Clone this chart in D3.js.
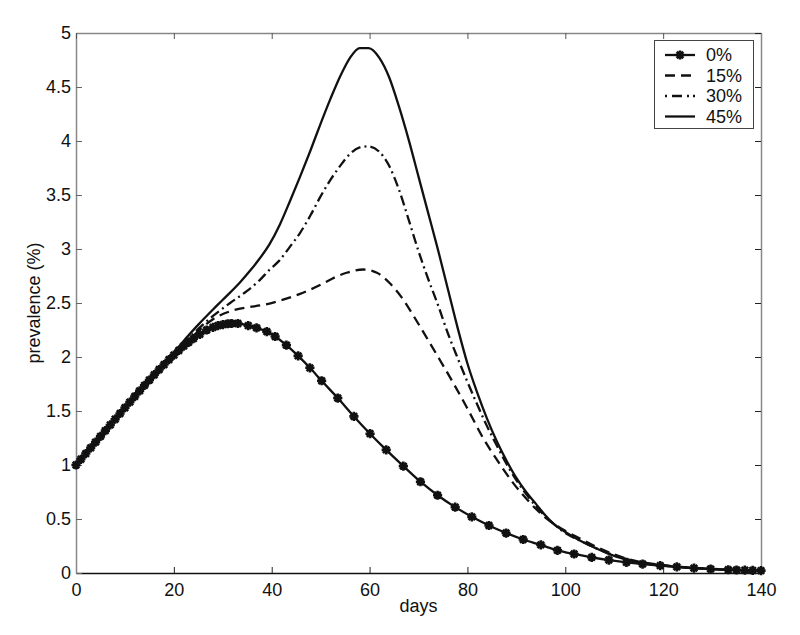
<!DOCTYPE html>
<html><head><meta charset="utf-8">
<script src="https://cdn.jsdelivr.net/npm/d3@7"></script>
<style>
body{margin:0;background:#fff}
text{font-family:"Liberation Sans",Arial,Helvetica,sans-serif;fill:#111}
</style>
</head><body>
<svg id="chart" width="800" height="635"></svg>
<script>
// ---- data ----
const seriesNames = ["0%", "15%", "30%", "45%"];
const xTicks = [0, 20, 40, 60, 80, 100, 120, 140];
const yTicks = [0, 0.5, 1, 1.5, 2, 2.5, 3, 3.5, 4, 4.5, 5];
const yTickLabels = ["0", "0.5", "1", "1.5", "2", "2.5", "3", "3.5", "4", "4.5", "5"];
const xLabel = "days";
const yLabel = "prevalence (%)";

const days0 = [0,1,2,3,4,5,6,7,8,9,10,11,12,13,14,15,16,17,18,19,20,21,22,23,24,25.3,26.7,28,29,30,31,31.8,33.1,35.2,36.9,39,40.7,43,45.4,47.8,50.2,53.5,56.8,60.1,63.4,66.9,70.4,73.9,77.5,80.9,84.4,87.9,91.4,95,98.4,101.8,105.4,108.9,112.5,115.8,119.4,122.8,126.3,129.7,133.3,135,136.7,138.3,140];
const prev0 = [1.00,1.053,1.106,1.159,1.212,1.265,1.318,1.371,1.424,1.477,1.53,1.582,1.634,1.686,1.737,1.787,1.836,1.884,1.93,1.975,2.018,2.06,2.10,2.135,2.17,2.21,2.25,2.275,2.29,2.30,2.308,2.31,2.31,2.29,2.27,2.235,2.19,2.11,2.01,1.90,1.78,1.62,1.45,1.29,1.14,0.99,0.845,0.72,0.61,0.52,0.44,0.37,0.31,0.26,0.21,0.176,0.145,0.12,0.099,0.083,0.068,0.056,0.045,0.037,0.03,0.028,0.026,0.024,0.022];

const days15 = [0,5,10,15,20,22.5,25,28,32,35,38,41.5,45.8,50.5,53,55.3,58.7,61.5,64.2,66.9,69,71,74.4,77.1,79.8,83.2,86,89.4,92.8,96,100,103,106,109,112,115,118,121,125,130,135,140];
const prev15 = [1.0,1.265,1.53,1.787,2.03,2.13,2.24,2.35,2.43,2.46,2.48,2.52,2.585,2.68,2.74,2.78,2.81,2.78,2.68,2.53,2.38,2.23,1.97,1.76,1.54,1.25,1.05,0.83,0.65,0.51,0.39,0.32,0.25,0.19,0.14,0.105,0.085,0.068,0.052,0.038,0.029,0.022];

const days30 = [0,5,10,15,20,22.5,25,28,31.5,34.9,37.5,39.6,41.5,43.7,45.8,47.9,49.9,52,54,56,58,59.8,62,64,66,68,70,72,74,76,78,80,82,84,86,88,90,92,94,96,98,100,103,106,109,112,115,118,121,125,130,135,140];
const prev30 = [1.0,1.265,1.53,1.787,2.03,2.15,2.26,2.38,2.50,2.61,2.71,2.81,2.89,3.02,3.15,3.31,3.48,3.64,3.77,3.88,3.94,3.95,3.90,3.77,3.55,3.27,2.98,2.72,2.48,2.22,1.99,1.77,1.56,1.36,1.18,1.01,0.86,0.73,0.62,0.52,0.44,0.37,0.30,0.235,0.18,0.135,0.10,0.08,0.065,0.05,0.037,0.029,0.022];

const days45 = [0,5,10,15,20,22.6,25,28,30,33.5,35.6,37,39.5,41.7,43.7,45.8,47.9,49.9,52,54,56,58,59.8,62,64,66,68,70,72,74,76,78,80,82,84,86,88,90,92,94,96,98,100,103,106,109,112,115,118,121,125,130,135,140];
const prev45 = [1.0,1.265,1.53,1.787,2.04,2.18,2.30,2.44,2.53,2.69,2.80,2.88,3.04,3.23,3.44,3.67,3.91,4.15,4.39,4.60,4.77,4.86,4.86,4.77,4.59,4.32,4.01,3.67,3.33,2.99,2.63,2.27,1.94,1.67,1.43,1.22,1.04,0.88,0.75,0.64,0.53,0.44,0.38,0.30,0.235,0.175,0.13,0.098,0.078,0.063,0.049,0.036,0.028,0.022];

// ---- layout ----
const W = 800, H = 635;
const m = {left: 76, top: 33, right: 39, bottom: 62};
const iw = W - m.left - m.right, ih = H - m.top - m.bottom;

const svg = d3.select("#chart");
svg.append("rect").attr("width", W).attr("height", H).attr("fill", "#fff");
const g = svg.append("g").attr("transform", `translate(${m.left},${m.top})`);

const x = d3.scaleLinear().domain([0, 140]).range([0, iw]);
const y = d3.scaleLinear().domain([0, 5]).range([ih, 0]);

const FS = 18;
const FF = '"Liberation Sans",Arial,sans-serif';

// axes
const axB = g.append("g").attr("transform", `translate(0,${ih})`)
  .call(d3.axisBottom(x).tickValues(xTicks).tickSize(-6).tickSizeOuter(0).tickPadding(10));
axB.select(".domain").attr("stroke", "#111").attr("stroke-width", 1.3);
axB.selectAll(".tick line").attr("stroke", "#222");
axB.selectAll("text").attr("font-size", FS).attr("font-family", FF).attr("fill", "#111");

const axL = g.append("g")
  .call(d3.axisLeft(y).tickValues(yTicks).tickFormat((d, i) => yTickLabels[i]).tickSize(-6).tickSizeOuter(0).tickPadding(5));
axL.select(".domain").attr("stroke", "#888").attr("stroke-width", 1.5);
axL.selectAll(".tick line").attr("stroke", "#666");
axL.selectAll("text").attr("font-size", FS).attr("font-family", FF).attr("fill", "#111");

const axT = g.append("g")
  .call(d3.axisTop(x).tickValues(xTicks).tickSize(-6).tickSizeOuter(0).tickFormat(""));
axT.select(".domain").attr("stroke", "#888").attr("stroke-width", 1.5);
axT.selectAll(".tick line").attr("stroke", "#555");

const axR = g.append("g").attr("transform", `translate(${iw},0)`)
  .call(d3.axisRight(y).tickValues(yTicks).tickSize(-6).tickSizeOuter(0).tickFormat(""));
axR.select(".domain").attr("stroke", "#888").attr("stroke-width", 1.5);
axR.selectAll(".tick line").attr("stroke", "#222");

// axis labels
svg.append("text").attr("x", m.left + iw / 2).attr("y", 612).attr("text-anchor", "middle")
  .attr("font-size", FS).text(xLabel);
svg.append("text").attr("transform", `translate(40,${m.top + ih / 2}) rotate(-90)`)
  .attr("text-anchor", "middle").attr("font-size", FS).text(yLabel);

// lines
const line = d3.line().x(d => x(d[0])).y(d => y(d[1])).curve(d3.curveMonotoneX);
const zip = (a, b) => a.map((v, i) => [v, b[i]]);

const styles = [
  {data: zip(days45, prev45), dash: null},
  {data: zip(days30, prev30), dash: "10,4,2,4"},
  {data: zip(days15, prev15), dash: "10,6"},
  {data: zip(days0, prev0), dash: null}
];
const plot = g.append("g");
styles.forEach(s => {
  plot.append("path").attr("d", line(s.data)).attr("fill", "none")
    .attr("stroke", "#111").attr("stroke-width", 2.3)
    .attr("stroke-dasharray", s.dash).attr("stroke-linejoin", "round");
});

// asterisk markers for 0%
function star(cx, cy, r) {
  const d = r * Math.SQRT1_2;
  return `M${cx - r},${cy}L${cx + r},${cy}M${cx},${cy - r}L${cx},${cy + r}` +
         `M${cx - d},${cy - d}L${cx + d},${cy + d}M${cx - d},${cy + d}L${cx + d},${cy - d}`;
}
plot.append("path")
  .attr("d", zip(days0, prev0).map(p => star(x(p[0]), y(p[1]), 4.6)).join(""))
  .attr("fill", "none").attr("stroke", "#111").attr("stroke-width", 2.6);

// legend
const lg = svg.append("g");
lg.append("rect").attr("x", 654.5).attr("y", 40.5).attr("width", 99).attr("height", 88)
  .attr("fill", "#fff").attr("stroke", "#444").attr("stroke-width", 1);
const legDash = [null, "10,6", "2,5,10,5,2,4", null];
const ly = [55, 75.5, 96, 116.5];
seriesNames.forEach((name, i) => {
  lg.append("line").attr("x1", 665).attr("x2", 695).attr("y1", ly[i]).attr("y2", ly[i])
    .attr("stroke", "#111").attr("stroke-width", 2.3).attr("stroke-dasharray", legDash[i]);
  if (i === 0) lg.append("path").attr("d", star(680, ly[i], 4.6)).attr("stroke", "#111").attr("stroke-width", 2.6).attr("fill", "none");
  lg.append("text").attr("x", 706).attr("y", ly[i]).attr("dy", "0.36em").attr("font-size", FS).text(name);
});
</script>
</body></html>
